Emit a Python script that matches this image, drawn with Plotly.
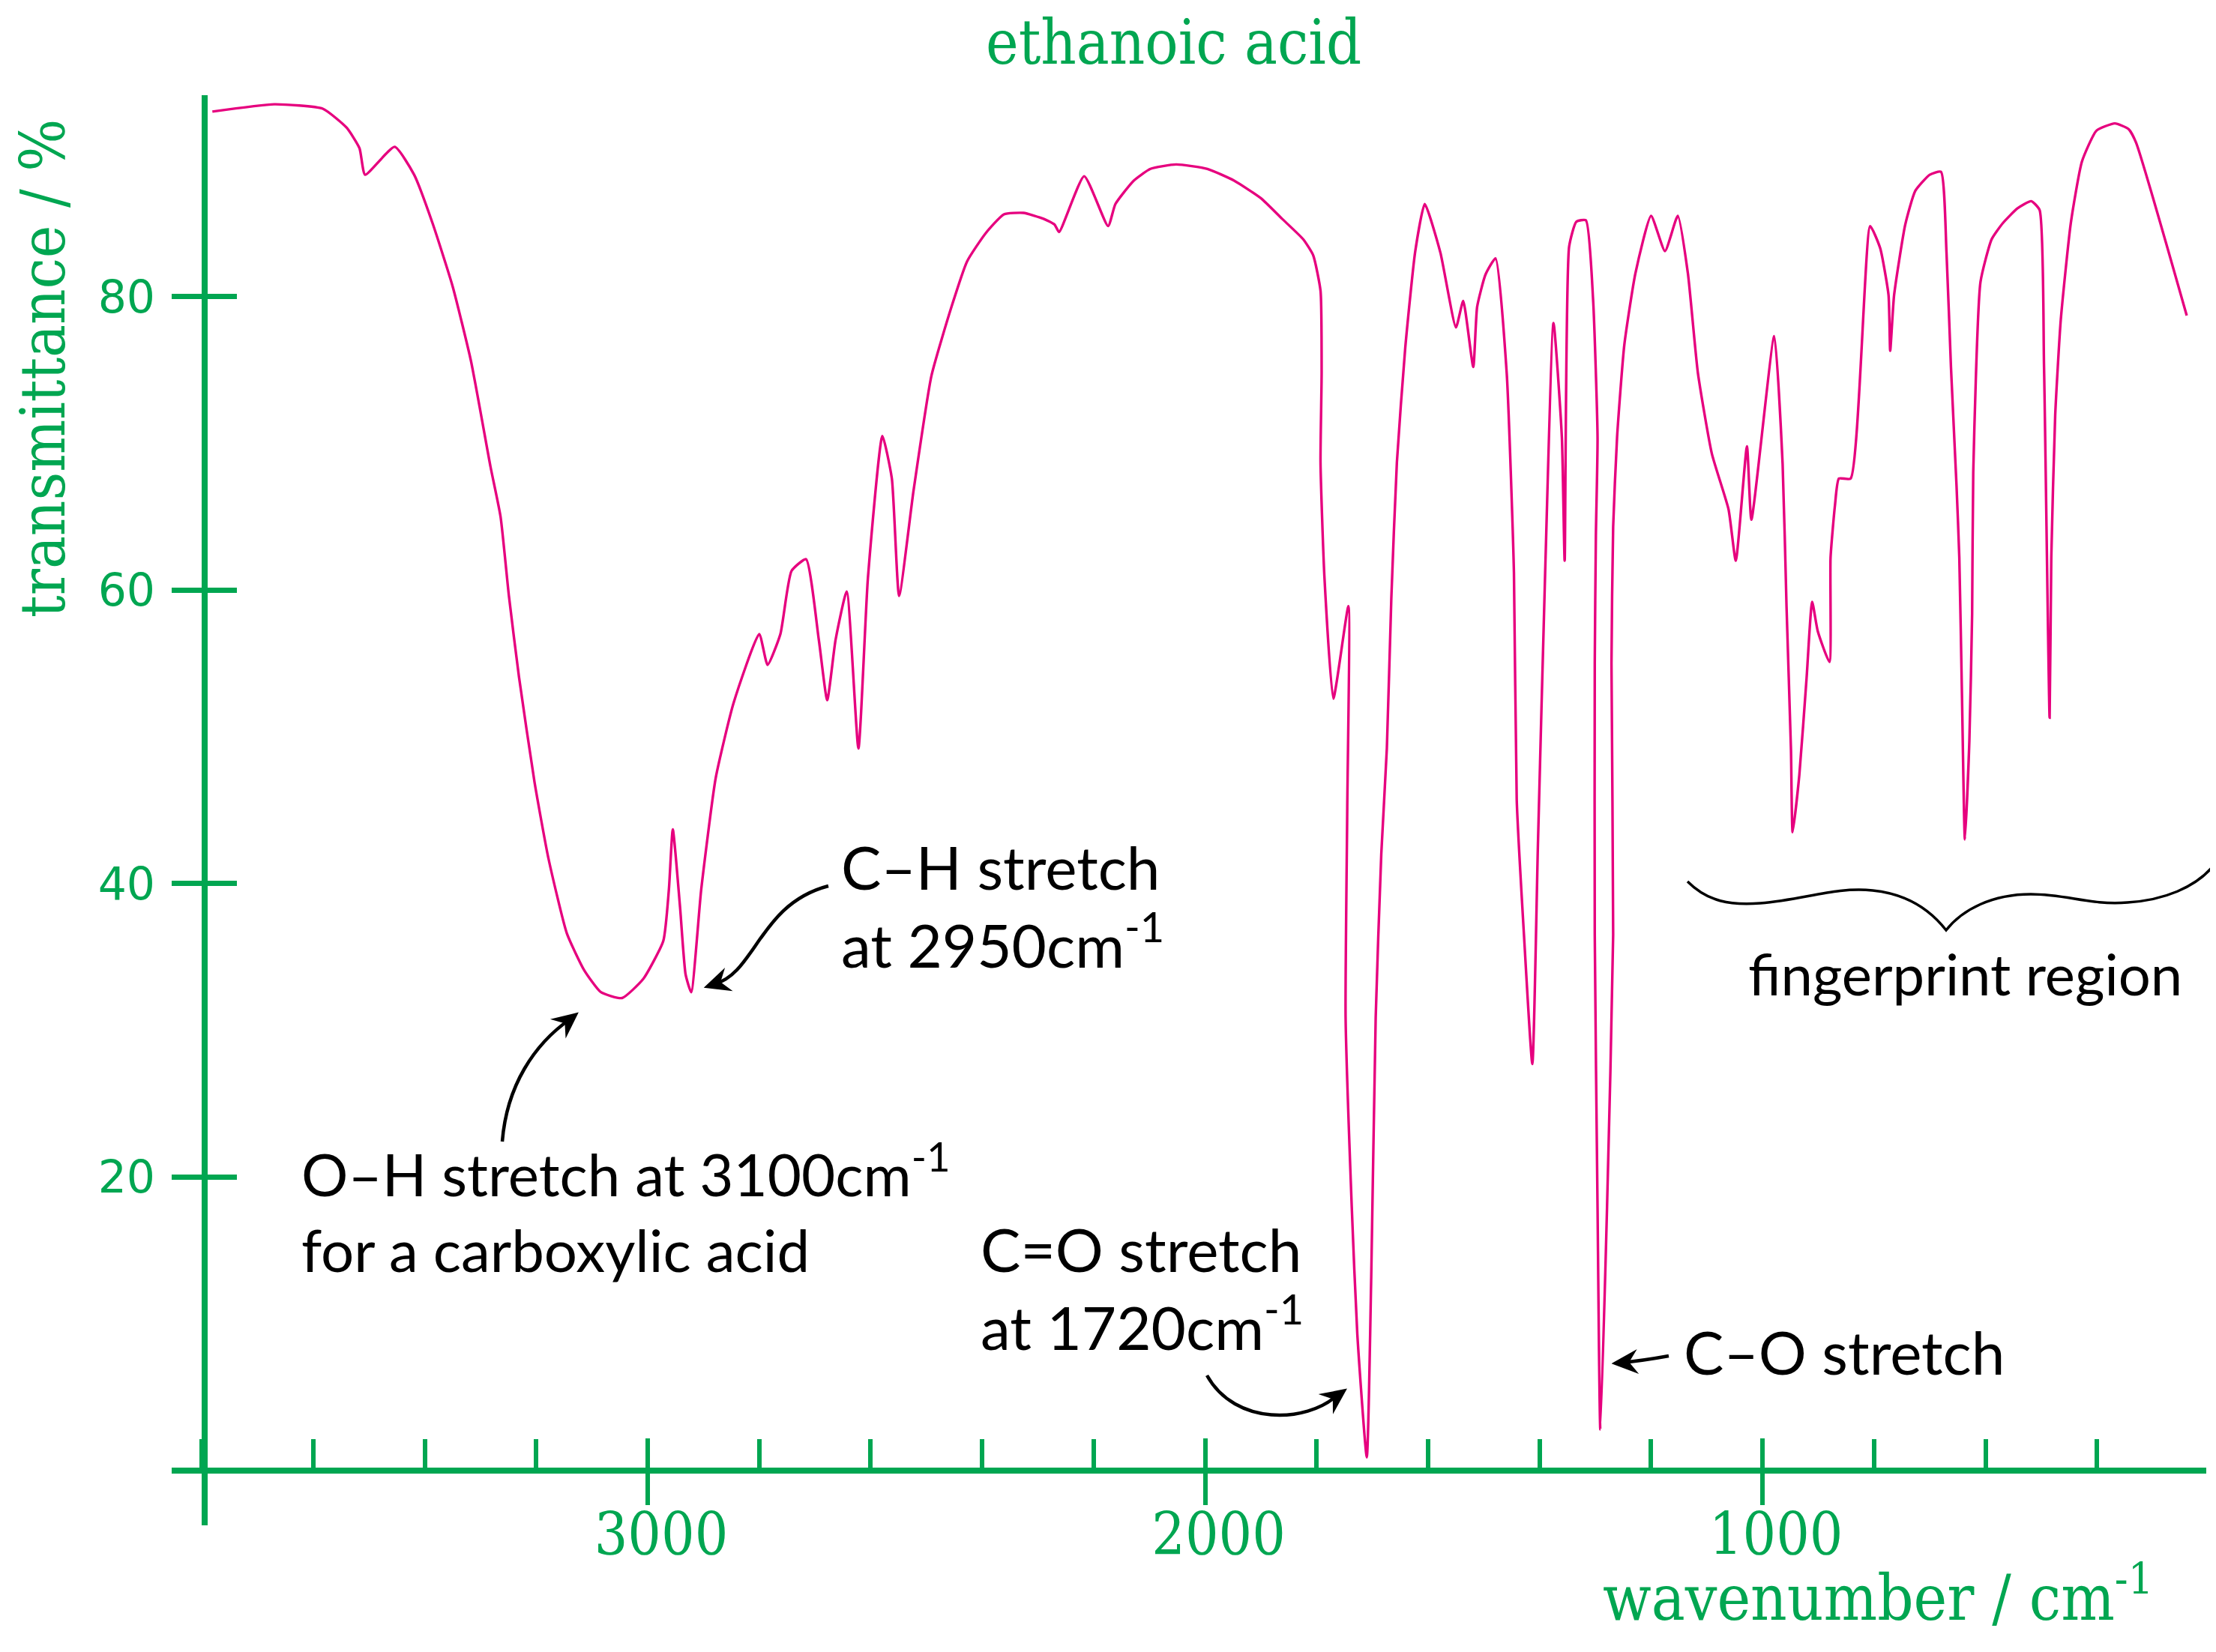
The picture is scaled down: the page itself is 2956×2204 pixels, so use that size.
import math
import plotly.graph_objects as go

# ---------------- data ----------------
wavenumber = [3781, 3670, 3583, 3540, 3517, 3507, 3454, 3419, 3386, 3350, 3317, 3282, 3264, 3249,
              3231, 3203, 3178, 3145, 3114, 3084, 3046, 3008, 2972, 2962, 2955, 2942, 2932, 2922,
              2904, 2878, 2846, 2800, 2785, 2762, 2742, 2716, 2693, 2678, 2663, 2643, 2622, 2605,
              2579, 2562, 2549, 2523, 2491, 2455, 2427, 2394, 2361, 2326, 2290, 2270, 2262, 2217,
              2174, 2161, 2128, 2098, 2052, 1996, 1948, 1900, 1862, 1824, 1806, 1793, 1791, 1793,
              1786, 1770, 1743, 1745, 1748, 1737, 1727, 1710, 1702, 1694, 1684, 1674, 1666, 1656,
              1641, 1623, 1606, 1578, 1550, 1537, 1519, 1512, 1497, 1479, 1459, 1446, 1441, 1428,
              1413, 1403, 1390, 1375, 1360, 1355, 1347, 1334, 1317, 1304, 1296, 1299, 1301, 1301,
              1296, 1291, 1279, 1268, 1271, 1268, 1261, 1248, 1228, 1200, 1175, 1152, 1134, 1116,
              1091, 1061, 1048, 1028, 1020, 979, 964, 957, 949, 946, 934, 921, 911, 901, 880, 878,
              870, 863, 842, 807, 789, 774, 771, 764, 744, 726, 700, 680, 670, 662, 652, 647, 642,
              637, 629, 624, 622, 609, 589, 569, 543, 518, 503, 495, 485, 482, 475, 465, 447, 427,
              401, 368, 343, 330, 239]
transmittance = [92.6, 93.1, 92.8, 91.5, 90.1, 88.3, 90.2, 88.3, 85.0, 80.7, 75.6, 68.4, 65.0, 59.6,
                 54.1, 46.9, 41.7, 36.6, 34.1, 32.6, 32.2, 33.5, 36.1, 39.6, 43.7, 38.4, 33.8, 32.6,
                 39.6, 47.2, 52.3, 57.0, 54.9, 57.0, 61.3, 62.1, 56.6, 52.5, 56.6, 59.9, 49.2, 60.8,
                 70.5, 67.6, 59.6, 66.8, 74.6, 79.3, 82.4, 84.3, 85.6, 85.7, 85.3, 84.9, 84.4, 88.2,
                 84.8, 86.3, 87.9, 88.7, 89.0, 88.7, 87.9, 86.7, 85.3, 83.9, 82.8, 80.4, 74.8, 68.7,
                 60.9, 52.6, 58.9, 45.2, 30.9, 18.0, 9.3, 0.9, 13.2, 30.9, 42.0, 49.2, 59.4, 68.7,
                 76.5, 83.1, 86.3, 83.0, 77.9, 79.7, 75.2, 79.3, 81.5, 82.6, 74.8, 61.2, 45.7, 36.5,
                 27.7, 42.6, 61.2, 78.2, 70.4, 62.0, 83.4, 85.1, 85.2, 79.8, 70.4, 63.7, 55.0, 36.5,
                 17.9, 2.8, 17.9, 36.5, 55.0, 64.3, 70.4, 76.7, 81.6, 85.5, 83.1, 85.5, 81.6, 74.8,
                 69.3, 65.5, 62.0, 69.8, 64.8, 77.3, 68.6, 58.9, 49.1, 43.5, 47.4, 54.0, 59.2, 57.2,
                 55.1, 62.2, 65.8, 67.6, 67.6, 84.8, 83.3, 80.1, 76.3, 80.1, 84.9, 87.2, 88.3, 88.5,
                 83.0, 75.2, 67.1, 62.2, 52.3, 43.0, 49.7, 58.4, 68.0, 81.0, 83.9, 85.0, 86.0, 86.5,
                 85.9, 75.2, 51.3, 62.2, 71.9, 78.4, 85.0, 89.2, 91.3, 91.8, 91.4, 90.5, 78.7]

x_major_ticks = [3000, 2000, 1000]
x_tick_text = ["3000", "2000", "1000"]
y_major_ticks = [20, 40, 60, 80]
y_tick_text = ["20", "40", "60", "80"]
x_range = [3854, 204]
y_range = [-3.73, 93.72]

# ---------------- styling ----------------
GREEN = "#00A651"
PINK = "#E6007E"
SLAB = "DejaVu Serif Condensed, DejaVu Serif, serif"
SANS = "DejaVu Sans, sans-serif"
HAND = "Lato, sans-serif"

W, H = 2956, 2204
L, R, T, B = 221, 21, 119, 177
PW, PH = W - L - R, H - T - B


def fx(p):
    return (p - L) / PW


def fy(p):
    return (H - B - p) / PH


def path(cmds):
    out = []
    for c in cmds:
        if isinstance(c, str):
            out.append(c)
        else:
            out.append(f"{fx(c[0]):.5f},{fy(c[1]):.5f}")
    return " ".join(out)


Y_AXIS_POS = fx(265)
X_AXIS_POS = (0 - y_range[0]) / (y_range[1] - y_range[0])

fig = go.Figure()
fig.add_trace(go.Scatter(x=wavenumber, y=transmittance, mode="lines",
                         line=dict(color=PINK, width=3.4, shape="spline", smoothing=0.5),
                         hoverinfo="skip", xaxis="x", yaxis="y"))
fig.add_trace(go.Scatter(x=wavenumber, y=transmittance, mode="lines",
                         line=dict(color="rgba(0,0,0,0)", width=0), hoverinfo="skip",
                         xaxis="x2", yaxis="y2"))

axis_common = dict(showgrid=False, zeroline=False)

fig.update_layout(
    width=W, height=H,
    margin=dict(l=L, r=R, t=T, b=B, pad=0),
    paper_bgcolor="white", plot_bgcolor="white",
    showlegend=False,
    xaxis=dict(range=x_range, anchor="free", position=X_AXIS_POS, **axis_common,
               showline=True, linecolor=GREEN, linewidth=8,
               tickmode="array", tickvals=x_major_ticks, showticklabels=False,
               ticks="outside", ticklen=42, tickwidth=6, tickcolor=GREEN,
               minor=dict(ticks="inside", dtick=200, tick0=0, ticklen=38, tickwidth=6,
                          tickcolor=GREEN, showgrid=False)),
    xaxis2=dict(range=x_range, anchor="free", position=X_AXIS_POS, overlaying="x",
                **axis_common, showline=False, showticklabels=True,
                tickmode="array", tickvals=x_major_ticks, ticktext=x_tick_text,
                tickfont=dict(family=SLAB, size=78, color=GREEN),
                ticklabelstandoff=33, ticklabelshift=-18,
                ticks="inside", ticklen=43, tickwidth=6, tickcolor=GREEN),
    yaxis=dict(range=y_range, anchor="free", position=Y_AXIS_POS, **axis_common,
               showline=True, linecolor=GREEN, linewidth=8,
               tickmode="array", tickvals=y_major_ticks, ticktext=y_tick_text,
               ticks="outside", ticklen=40, tickwidth=7, tickcolor=GREEN,
               tickfont=dict(family=SANS, size=60, color=GREEN), ticklabelstandoff=10),
    yaxis2=dict(range=y_range, anchor="free", position=Y_AXIS_POS, overlaying="y",
                **axis_common, showline=False, showticklabels=False,
                tickmode="array", tickvals=y_major_ticks,
                ticks="inside", ticklen=42, tickwidth=7, tickcolor=GREEN),
)

annotations = []
# title and axis titles
annotations.append(dict(text="ethanoic acid", x=fx(1557), y=fy(0), xref="paper", yref="paper",
                        xanchor="center", yanchor="top", showarrow=False, borderpad=0,
                        font=dict(family=SLAB, size=82, color=GREEN)))
annotations.append(dict(text="wavenumber / cm<sup>-1</sup>", x=fx(2866), y=fy(2118),
                        xref="paper", yref="paper", xanchor="right", yanchor="middle",
                        showarrow=False, font=dict(family=SLAB, size=84, color=GREEN)))
annotations.append(dict(text="transmittance / %", x=fx(50), y=fy(484), xref="paper", yref="paper",
                        xanchor="center", yanchor="middle", textangle=-90, showarrow=False,
                        font=dict(family=SLAB, size=82, color=GREEN)))

labels = [
    ("C–H stretch<br>at 2950cm<sup>-1</sup>", 1112, 1200, 80),
    ("O–H stretch at 3100cm<sup>-1</sup><br>for a carboxylic acid", 392, 1603, 78),
    ("C=O stretch<br>at 1720cm<sup>-1</sup>", 1298, 1710, 80),
    ("C–O stretch", 2236, 1795, 80),
    ("fingerprint region", 2322, 1290, 76),
]
for txt, lx, ly, fs in labels:
    annotations.append(dict(text=txt, x=fx(lx), y=fy(ly), xref="paper", yref="paper",
                            xanchor="left", yanchor="middle", align="left", showarrow=False,
                            font=dict(family=HAND, size=fs, color="black")))
fig.update_layout(annotations=annotations)

shapes = []
curves = [
    ["M", (1097, 1174), "C", (1005, 1198), (1000, 1290), (945, 1305)],
    ["M", (662, 1515), "C", (668, 1440), (705, 1385), (752, 1352)],
    ["M", (1602, 1827), "C", (1640, 1895), (1735, 1890), (1775, 1854)],
    ["M", (2218, 1801), "Q", (2185, 1807), (2155, 1810)],
]
for c in curves:
    shapes.append(dict(type="path", xref="paper", yref="paper", path=path(c),
                       line=dict(color="black", width=4.5)))

# barbed arrowheads: tip position and the point the head comes from
heads = [
    ((933, 1309), (960, 1300)),
    ((762, 1344), (742, 1360)),
    ((1787, 1846), (1765, 1862)),
    ((2144, 1811), (2170, 1809)),
]
for (tx, ty), (sx, sy) in heads:
    dx, dy = tx - sx, ty - sy
    n = math.hypot(dx, dy)
    ux, uy = dx / n, dy / n
    px_, py_ = -uy, ux
    ln, wd, notch = 30, 14, 20
    p1 = (tx - ln * ux + wd * px_, ty - ln * uy + wd * py_)
    p2 = (tx - notch * ux, ty - notch * uy)
    p3 = (tx - ln * ux - wd * px_, ty - ln * uy - wd * py_)
    shapes.append(dict(type="path", xref="paper", yref="paper",
                       path=path(["M", (tx, ty), "L", p1, "L", p2, "L", p3, "Z"]),
                       fillcolor="black", line=dict(color="black", width=2)))

brace = ["M", (2243, 1168), "C", (2270, 1195), (2300, 1200), (2340, 1197),
         "C", (2400, 1192), (2440, 1175), (2490, 1180),
         "C", (2540, 1185), (2570, 1210), (2588, 1233),
         "C", (2610, 1205), (2650, 1185), (2701, 1185),
         "C", (2750, 1185), (2780, 1200), (2830, 1196),
         "C", (2880, 1193), (2920, 1175), (2942, 1150)]
shapes.append(dict(type="path", xref="paper", yref="paper", path=path(brace),
                   line=dict(color="black", width=3.5)))
fig.update_layout(shapes=shapes)

fig.write_html("out.html")
